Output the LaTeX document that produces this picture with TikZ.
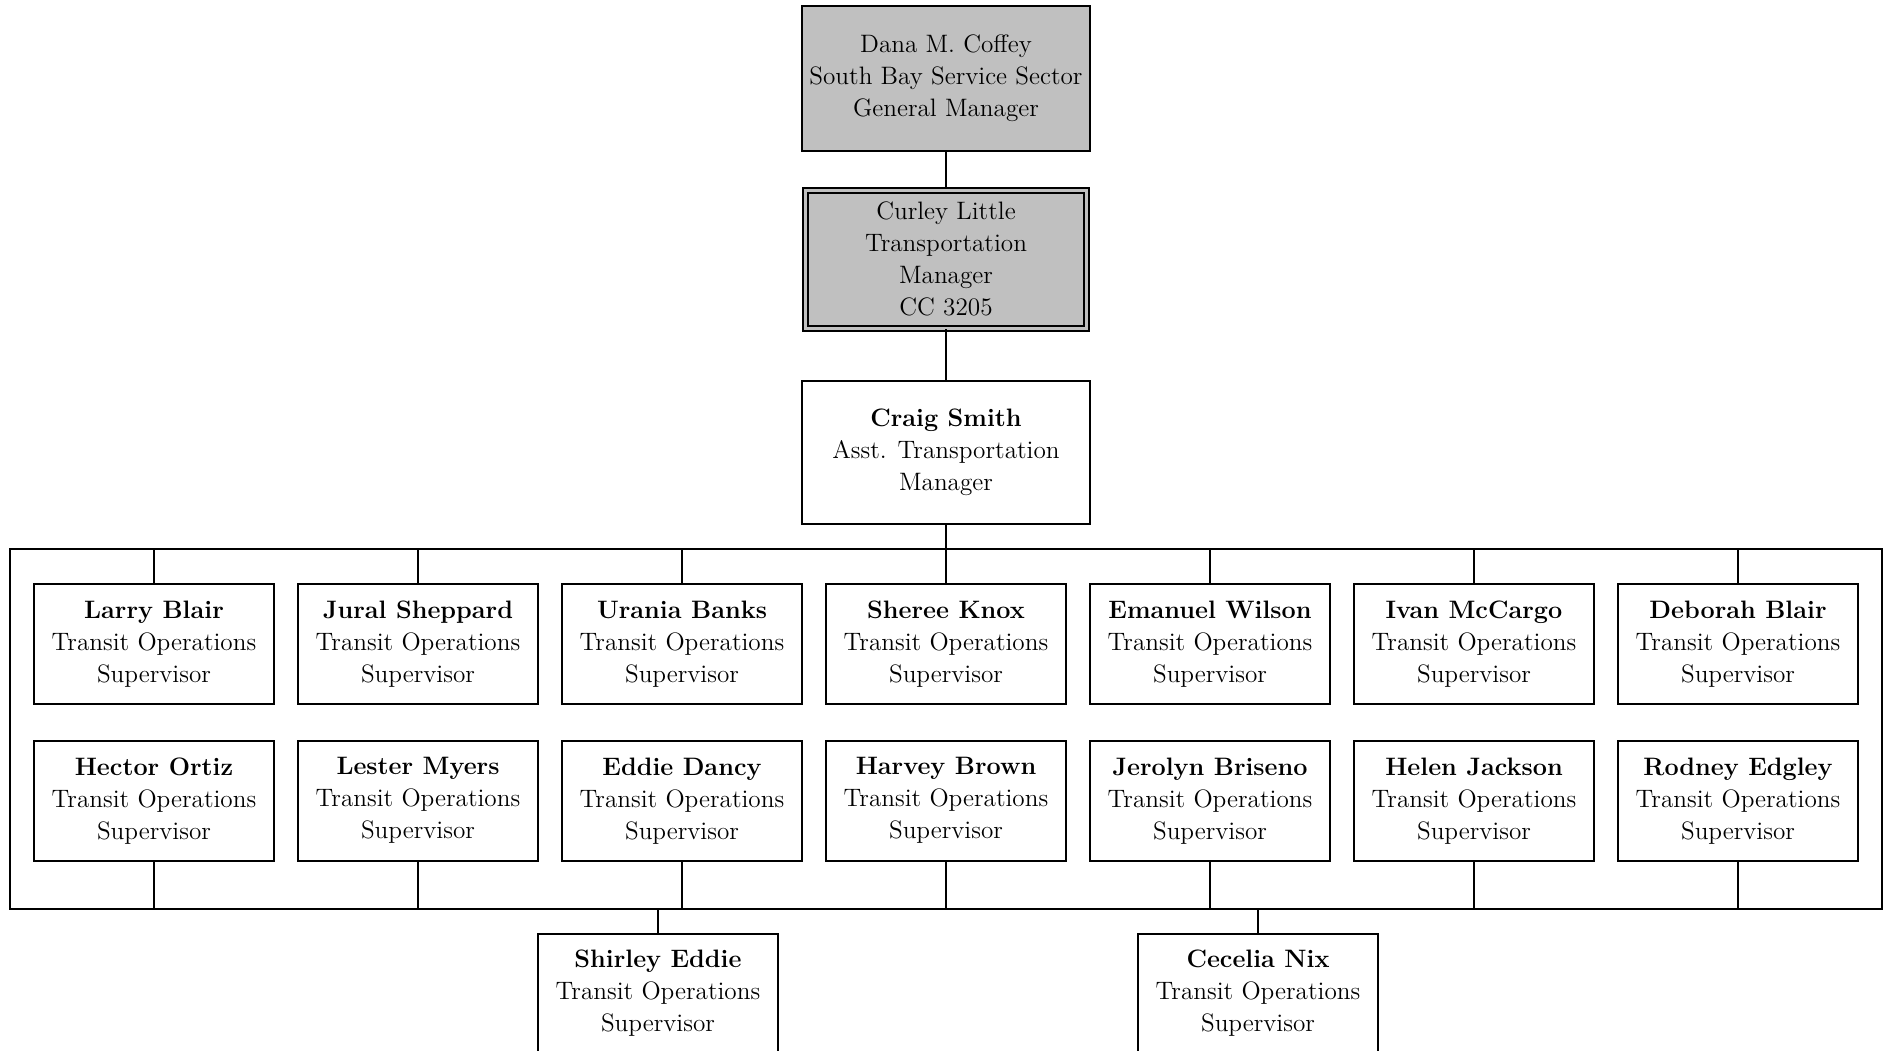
\documentclass[tikz,border=0pt]{standalone}
\usepackage{tikz}
\usetikzlibrary{positioning, calc}
\definecolor{boxgray}{RGB}{192,192,192}
\tikzset{
    block_gray/.style={rectangle, draw, fill=boxgray, line width=1pt, align=center, inner sep=2pt, font=\fontsize{12.6}{16}\selectfont},
    block_white/.style={rectangle, draw, fill=white, line width=1pt, align=center, inner sep=2pt, font=\fontsize{12.6}{16}\selectfont},
    link/.style={line width=1pt}
}

\begin{document}
\begin{tikzpicture}
    \tikzstyle{staff}=[block_white, minimum width=120pt, minimum height=60pt]
    \useasboundingbox (0,0) rectangle (945.5pt,-525pt);

    % Managers
    \node (dana) [block_gray, minimum width=144pt, minimum height=72.5pt] at (473pt,-39.25pt) {Dana M. Coffey\\South Bay Service Sector\\General Manager};
    \node (curley) [block_gray, double=boxgray, double distance=1.5pt, minimum width=140.5pt, minimum height=69pt, below=18.5pt of dana] {Curley Little\\Transportation\\Manager\\CC 3205};
    \node (craig) [block_white, minimum width=144pt, minimum height=71.5pt, below=25.25pt of curley] {\textbf{Craig Smith}\\Asst. Transportation\\Manager};

    % Supervisors, first row
    \node (sheree) [staff, below=29.3pt of craig] {\textbf{Sheree Knox}\\Transit Operations\\Supervisor};
    \node (urania) [staff, left=11pt of sheree] {\textbf{Urania Banks}\\Transit Operations\\Supervisor};
    \node (jural) [staff, left=11pt of urania] {\textbf{Jural Sheppard}\\Transit Operations\\Supervisor};
    \node (larry) [staff, left=11pt of jural] {\textbf{Larry Blair}\\Transit Operations\\Supervisor};
    \node (emanuel) [staff, right=11pt of sheree] {\textbf{Emanuel Wilson}\\Transit Operations\\Supervisor};
    \node (ivan) [staff, right=11pt of emanuel] {\textbf{Ivan McCargo}\\Transit Operations\\Supervisor};
    \node (deborah) [staff, right=11pt of ivan] {\textbf{Deborah Blair}\\Transit Operations\\Supervisor};

    % Supervisors, second row
    \node (harvey) [staff, below=17.3pt of sheree] {\textbf{Harvey Brown}\\Transit Operations\\Supervisor};
    \node (eddie) [staff, left=11pt of harvey] {\textbf{Eddie Dancy}\\Transit Operations\\Supervisor};
    \node (lester) [staff, left=11pt of eddie] {\textbf{Lester Myers}\\Transit Operations\\Supervisor};
    \node (hector) [staff, left=11pt of lester] {\textbf{Hector Ortiz}\\Transit Operations\\Supervisor};
    \node (jerolyn) [staff, right=11pt of harvey] {\textbf{Jerolyn Briseno}\\Transit Operations\\Supervisor};
    \node (helen) [staff, right=11pt of jerolyn] {\textbf{Helen Jackson}\\Transit Operations\\Supervisor};
    \node (rodney) [staff, right=11pt of helen] {\textbf{Rodney Edgley}\\Transit Operations\\Supervisor};

    % Supervisors, below the loop
    \node (shirley) [staff, below=35.4pt of eddie, xshift=-12pt] {\textbf{Shirley Eddie}\\Transit Operations\\Supervisor};
    \node (cecelia) [staff, below=35.4pt of jerolyn, xshift=24pt] {\textbf{Cecelia Nix}\\Transit Operations\\Supervisor};

    % Loop
    \coordinate [below=12.4pt of craig] (bustop);
    \coordinate [below=23.5pt of harvey] (busbot);
    \coordinate (busleft) at ($(larry.west |- bustop)+(-11.5pt,0)$);
    \coordinate (busright) at ($(deborah.east |- busbot)+(11.5pt,0)$);
    \draw [link] (busleft) rectangle (busright);

    % Chain of command
    \draw [link] (dana) -- (curley);
    \draw [link] (curley) -- (craig);
    \draw [link] (craig) -- (bustop);

    % First row to the loop
    \draw [link] (larry) -- (larry |- bustop);
    \draw [link] (jural) -- (jural |- bustop);
    \draw [link] (urania) -- (urania |- bustop);
    \draw [link] (sheree) -- (sheree |- bustop);
    \draw [link] (emanuel) -- (emanuel |- bustop);
    \draw [link] (ivan) -- (ivan |- bustop);
    \draw [link] (deborah) -- (deborah |- bustop);

    % Second row to the loop
    \draw [link] (hector) -- (hector |- busbot);
    \draw [link] (lester) -- (lester |- busbot);
    \draw [link] (eddie) -- (eddie |- busbot);
    \draw [link] (harvey) -- (harvey |- busbot);
    \draw [link] (jerolyn) -- (jerolyn |- busbot);
    \draw [link] (helen) -- (helen |- busbot);
    \draw [link] (rodney) -- (rodney |- busbot);

    % Below the loop
    \draw [link] (shirley) -- (shirley |- busbot);
    \draw [link] (cecelia) -- (cecelia |- busbot);
\end{tikzpicture}
\end{document}
